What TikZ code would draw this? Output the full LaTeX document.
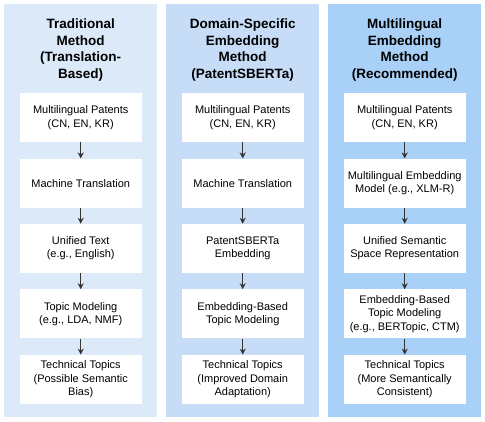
\documentclass[tikz,border=0pt]{standalone}
\usepackage{fontspec}
\setmainfont{Liberation Sans}
\usetikzlibrary{positioning,arrows.meta}
\definecolor{paneA}{HTML}{DCE9F9}
\definecolor{paneB}{HTML}{C7DCF7}
\definecolor{paneC}{HTML}{A9D1F8}
\definecolor{arrowgray}{HTML}{333333}
\begin{document}
\begin{tikzpicture}[x=1pt, y=1pt, node distance=16pt,
  panel/.style={minimum width=153pt, minimum height=413pt, inner sep=0pt, anchor=north west},
  title/.style={font=\bfseries\fontsize{13.5}{16.5}\selectfont, align=center},
  stepbox/.style={fill=white, minimum width=122pt, minimum height=49pt, inner sep=2pt,
    align=center, font=\fontsize{11}{13.3}\selectfont},
  flow/.style={-{Stealth[length=6pt,width=6pt]}, draw=arrowgray, line width=1.1pt}]
  \useasboundingbox (0,0) rectangle (485,-422);

  \node (P1) [panel, fill=paneA] at (4,-4) {};
  \node (P2) [panel, fill=paneB] at (166,-4) {};
  \node (P3) [panel, fill=paneC] at (328,-4) {};

  \node (T1) [title] at ([yshift=-46pt]P1.north) {Traditional\\Method\\(Translation-\\Based)};
  \node (T2) [title] at ([yshift=-46pt]P2.north) {Domain-Specific\\Embedding\\Method\\(PatentSBERTa)};
  \node (T3) [title] at ([yshift=-46pt]P3.north) {Multilingual\\Embedding\\Method\\(Recommended)};

  \node (A1) [stepbox, below=89pt of P1.north] {Multilingual Patents\\(CN, EN, KR)};
  \node (A2) [stepbox, below=of A1] {Machine Translation};
  \node (A3) [stepbox, below=of A2] {Unified Text\\(e.g., English)};
  \node (A4) [stepbox, below=of A3] {Topic Modeling\\(e.g., LDA, NMF)};
  \node (A5) [stepbox, below=of A4] {Technical Topics\\(Possible Semantic\\Bias)};

  \node (B1) [stepbox, below=89pt of P2.north] {Multilingual Patents\\(CN, EN, KR)};
  \node (B2) [stepbox, below=of B1] {Machine Translation};
  \node (B3) [stepbox, below=of B2] {PatentSBERTa\\Embedding};
  \node (B4) [stepbox, below=of B3] {Embedding-Based\\Topic Modeling};
  \node (B5) [stepbox, below=of B4] {Technical Topics\\(Improved Domain\\Adaptation)};

  \node (C1) [stepbox, below=89pt of P3.north] {Multilingual Patents\\(CN, EN, KR)};
  \node (C2) [stepbox, below=of C1] {Multilingual Embedding\\Model (e.g., XLM-R)};
  \node (C3) [stepbox, below=of C2] {Unified Semantic\\Space Representation};
  \node (C4) [stepbox, below=of C3] {Embedding-Based\\Topic Modeling\\(e.g., BERTopic, CTM)};
  \node (C5) [stepbox, below=of C4] {Technical Topics\\(More Semantically\\Consistent)};

  \draw[flow] (A1) -- (A2);
  \draw[flow] (A2) -- (A3);
  \draw[flow] (A3) -- (A4);
  \draw[flow] (A4) -- (A5);
  \draw[flow] (B1) -- (B2);
  \draw[flow] (B2) -- (B3);
  \draw[flow] (B3) -- (B4);
  \draw[flow] (B4) -- (B5);
  \draw[flow] (C1) -- (C2);
  \draw[flow] (C2) -- (C3);
  \draw[flow] (C3) -- (C4);
  \draw[flow] (C4) -- (C5);
\end{tikzpicture}
\end{document}
